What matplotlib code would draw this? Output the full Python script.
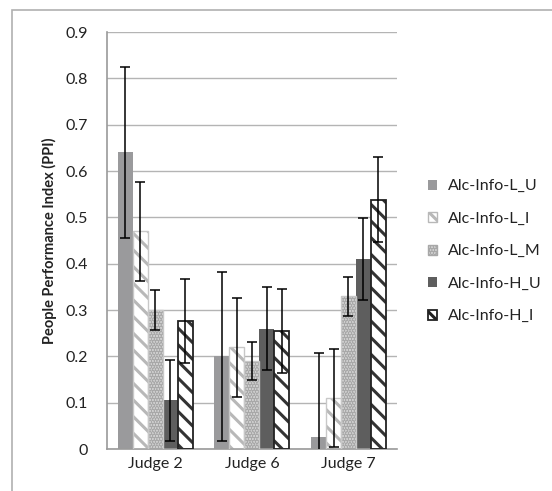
import matplotlib
matplotlib.use("Agg")
import matplotlib.pyplot as plt
import numpy as np
from matplotlib.patches import Patch, Rectangle
from matplotlib.ticker import FuncFormatter

plt.rcParams['font.family'] = ['Lato', 'DejaVu Sans']
plt.rcParams['hatch.linewidth'] = 2.2

judges = ["Judge 2", "Judge 6", "Judge 7"]
series = ["Alc-Info-L_U", "Alc-Info-L_I", "Alc-Info-L_M", "Alc-Info-H_U", "Alc-Info-H_I"]
values = {
    "Alc-Info-L_U": [0.64, 0.20, 0.025],
    "Alc-Info-L_I": [0.47, 0.22, 0.11],
    "Alc-Info-L_M": [0.30, 0.19, 0.33],
    "Alc-Info-H_U": [0.105, 0.26, 0.41],
    "Alc-Info-H_I": [0.277, 0.255, 0.538],
}
errors = {
    "Alc-Info-L_U": [0.184, 0.182, 0.183],
    "Alc-Info-L_I": [0.107, 0.107, 0.105],
    "Alc-Info-L_M": [0.044, 0.042, 0.042],
    "Alc-Info-H_U": [0.088, 0.089, 0.089],
    "Alc-Info-H_I": [0.091, 0.091, 0.092],
}
yticks = [0, 0.1, 0.2, 0.3, 0.4, 0.5, 0.6, 0.7, 0.8, 0.9]

# style: (face, hatch, hatch colour, outline colour, outline width)
styles = {
    "Alc-Info-L_U": ("#9a9a9c", None, None, "none", 0),
    "Alc-Info-L_I": ("white", "\\\\", "#b8b8b8", "#c8c8c8", 1.0),
    "Alc-Info-L_M": ("#d4d4d4", "......", "#a8a8a8", "#c8c8c8", 1.0),
    "Alc-Info-H_U": ("#5e5e5e", None, None, "none", 0),
    "Alc-Info-H_I": ("white", "\\\\", "#333333", "#222222", 1.3),
}

fig = plt.figure(figsize=(5.52, 4.91), dpi=100)
ax = fig.add_axes([0.1938, 0.0855, 0.525, 0.8493])

x = np.arange(len(judges))
w = 0.155
for i, s in enumerate(series):
    pos = x + (i - 2) * w
    face, hatch, hcol, ecol, lw = styles[s]
    if hatch:
        ax.bar(pos, values[s], width=w, color=face, hatch=hatch, edgecolor=hcol,
               linewidth=0, zorder=2)
        ax.bar(pos, values[s], width=w, fill=False, edgecolor=ecol, linewidth=lw, zorder=3)
    else:
        ax.bar(pos, values[s], width=w, color=face, linewidth=0, zorder=2)
    ax.errorbar(pos, values[s], yerr=errors[s], fmt="none", ecolor="black",
                elinewidth=1.1, capsize=3.5, capthick=1.1, zorder=4)

ax.set_xlim(-0.5, 2.5)
ax.set_ylim(0, 0.9)
ax.set_yticks(yticks)
ax.yaxis.set_major_formatter(FuncFormatter(lambda v, p: "0" if v == 0 else f"{v:.1f}"))
ax.set_xticks(x)
ax.set_xticklabels(judges)
ax.tick_params(axis="both", length=0, labelsize=11.5, colors="#222222")
ax.tick_params(axis="y", pad=14)
ax.tick_params(axis="x", pad=6)
ax.grid(axis="y", color="#b4b4b4", linewidth=1.0, zorder=0)
ax.set_axisbelow(True)
for sp in ["top", "right"]:
    ax.spines[sp].set_visible(False)
for sp in ["left", "bottom"]:
    ax.spines[sp].set_color("#9a9a9a")
    ax.spines[sp].set_linewidth(1.2)
ax.set_ylabel("People Performance Index (PPI)", fontsize=10.5, fontweight="bold",
              color="#222222", labelpad=6)

handles = []
for s in series:
    face, hatch, hcol, ecol, lw = styles[s]
    if hatch:
        handles.append(Patch(facecolor=face, hatch=hatch, edgecolor=hcol if s != "Alc-Info-H_I" else "#222222",
                             linewidth=lw, label=s))
    else:
        handles.append(Patch(facecolor=face, edgecolor="none", label=s))
leg = fig.legend(handles=handles, loc="upper left", bbox_to_anchor=(0.775, 0.635),
                 frameon=False, fontsize=11.5, handlelength=0.6, handleheight=0.6,
                 handletextpad=0.65, labelspacing=1.16, borderpad=0, borderaxespad=0)
for t in leg.get_texts():
    t.set_color("#222222")

fig.patches.append(Rectangle((12 / 552, -0.1), 1.2, 1 - 10 / 491 + 0.1,
                             transform=fig.transFigure, fill=False,
                             edgecolor="#b0b0b0", linewidth=1.2))

fig.savefig("out.png", dpi=100)
